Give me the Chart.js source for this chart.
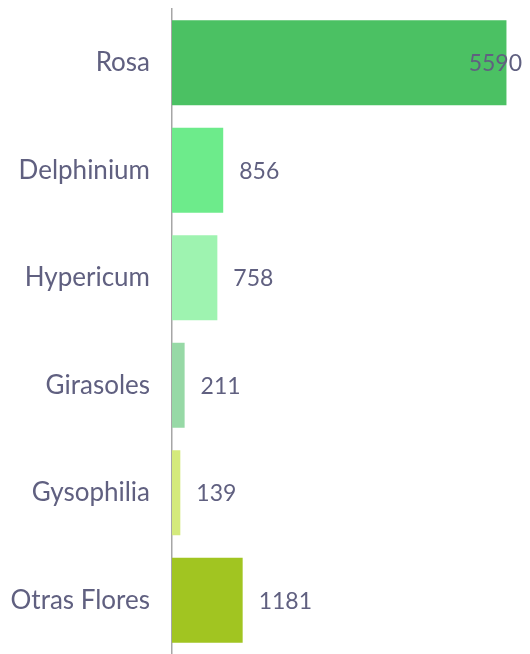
<!DOCTYPE html>
<html>
	<head>
		<meta charset="UTF-8">
		<title>Flores</title>
		<script src="https://cdn.jsdelivr.net/npm/chart.js@4"></script>
		<style>
			body { margin: 0; background: #fff; }
			#wrap { width: 530px; height: 654px; }
		</style>
	</head>
	<body>
		<div id="wrap"><canvas id="bar-chart"></canvas></div>
		<script>
			const flores = ['Rosa', 'Delphinium', 'Hypericum', 'Girasoles', 'Gysophilia', 'Otras Flores'];
			const cantidades = [5590, 856, 758, 211, 139, 1181];
			const colores = ['#4bc163', '#6deb8b', '#9ef3b0', '#97d9a6', '#d4ea7c', '#a1c521'];
			const textColor = '#606080';
			const fontFamily = 'Lato, "DejaVu Sans", sans-serif';

			// value labels next to each bar, kept inside the chart area
			const valueLabels = {
				id: 'valueLabels',
				afterDatasetsDraw(chart) {
					const ctx = chart.ctx;
					const area = chart.chartArea;
					ctx.save();
					ctx.font = '23px ' + fontFamily;
					ctx.fillStyle = textColor;
					ctx.textBaseline = 'middle';
					chart.getDatasetMeta(0).data.forEach(function(bar, i) {
						const txt = String(cantidades[i]);
						const w = ctx.measureText(txt).width;
						let x = bar.x + 16;
						if (x + w > area.right - 6) x = area.right - 6 - w;
						ctx.fillText(txt, x, bar.y + 1);
					});
					ctx.restore();
				}
			};

			new Chart(document.getElementById('bar-chart'), {
				type: 'bar',
				data: {
					labels: flores,
					datasets: [{
						data: cantidades,
						backgroundColor: colores,
						barPercentage: 0.79,
						categoryPercentage: 1
					}]
				},
				options: {
					indexAxis: 'y',
					responsive: true,
					maintainAspectRatio: false,
					animation: false,
					layout: { padding: { top: 9, right: 2, bottom: 0, left: 0 } },
					plugins: {
						legend: { display: false },
						tooltip: { enabled: false }
					},
					scales: {
						x: { display: false, min: 0, max: 5950 },
						y: {
							grid: { display: false },
							border: { display: true, color: '#a6a6a6', width: 1.5 },
							afterFit: function(scale) {
								scale.width = 172;
								scale.paddingTop = 0;
								scale.paddingBottom = 0;
							},
							ticks: {
								color: textColor,
								padding: 14,
								font: { size: 26, family: fontFamily }
							}
						}
					}
				},
				plugins: [valueLabels]
			});
		</script>
	</body>
</html>
